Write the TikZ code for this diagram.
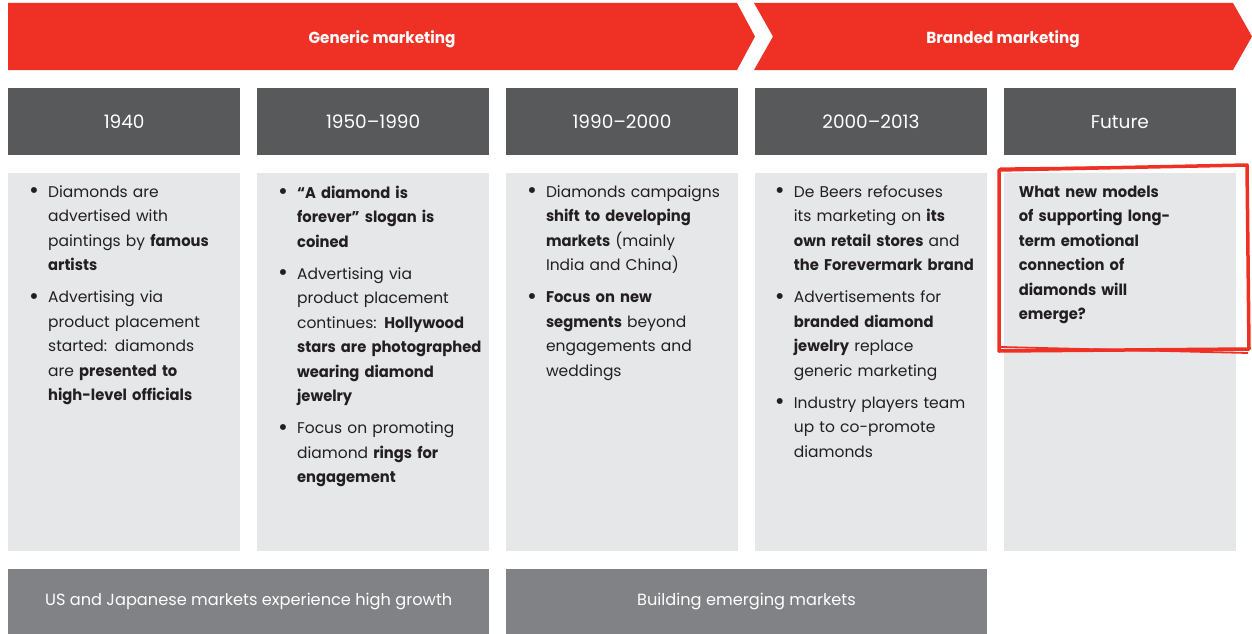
\documentclass[tikz,border=0pt]{standalone}
\usepackage{fontspec}
\setmainfont{Poppins}[BoldFeatures={FakeStretch=0.95}]
\usetikzlibrary{positioning}

\definecolor{bcred}{HTML}{EE3124}
\definecolor{hdgray}{HTML}{58595B}
\definecolor{bxgray}{HTML}{E6E7E8}
\definecolor{bargray}{HTML}{808285}
\definecolor{txdark}{HTML}{231F20}

\newcommand\dotmark{\raisebox{-1.5pt}{\fontsize{24}{0}\selectfont\textbullet}}
\newcommand\itm{\hangindent=19pt\hangafter=1\noindent\makebox[19pt][l]{\dotmark}\ignorespaces}
\newcommand\nitm{\par\vspace{7.5pt}\itm}

\tikzset{
  hdr/.style={fill=hdgray, text=white, minimum width=232pt, minimum height=67pt,
    inner sep=0pt, anchor=north west, font=\fontsize{18.5}{20}\selectfont},
  pane/.style={fill=bxgray, minimum width=232pt, minimum height=378pt,
    inner sep=0pt},
  bar/.style={fill=bargray, text=white, minimum width=481pt, minimum height=66pt,
    inner sep=0pt, font=\fontsize{16.2}{20}\selectfont},
  txt/.style={inner sep=0pt, text width=215pt, align=left, text=txdark,
    font=\fontsize{15.5}{24.5}\selectfont},
  banner/.style={fill=bcred},
  bannerlbl/.style={text=white, font=\bfseries\fontsize{16}{20}\selectfont}
}

\begin{document}
\begin{tikzpicture}[x=1pt, y=-1pt]
  \useasboundingbox (0,0) rectangle (1252,634);

  % top arrows
  \fill[banner] (8,3) -- (737,3) -- (755,36.5) -- (737,70) -- (8,70) -- cycle;
  \fill[banner] (754,3) -- (1233,3) -- (1252,36.5) -- (1233,70) -- (754,70) -- (773,36.5) -- cycle;
  \node[bannerlbl] (gen) at (382,39) {Generic marketing};
  \node[bannerlbl] (brd) at (1003,39) {Branded marketing};

  % periods
  \node[hdr]                      (h1) at (8,88) {1940};
  \node[hdr, right=16.5pt of h1] (h2) {1950--1990};
  \node[hdr, right=16.5pt of h2] (h3) {1990--2000};
  \node[hdr, right=16.5pt of h3] (h4) {2000--2013};
  \node[hdr, right=16.5pt of h4] (h5) {Future};

  \node[pane, below=17pt of h1] (c1) {};
  \node[pane, below=17pt of h2] (c2) {};
  \node[pane, below=17pt of h3] (c3) {};
  \node[pane, below=17pt of h4] (c4) {};
  \node[pane, below=17pt of h5] (c5) {};

  \node[txt, below right=13pt and 21pt of c1.north west] (t1) {%
    \itm Diamonds are\newline advertised with\newline paintings by \textbf{famous}\newline \textbf{artists}
    \nitm Advertising via\newline product placement\newline started: diamonds\newline are \textbf{presented to}\newline \textbf{high-level officials}\par};
  \node[txt, below right=13pt and 21pt of c2.north west] (t2) {%
    \itm \textbf{“A diamond is}\newline \textbf{forever” slogan is}\newline \textbf{coined}
    \nitm Advertising via\newline product placement\newline continues: \textbf{Hollywood}\newline \textbf{stars are photographed}\newline \textbf{wearing diamond}\newline \textbf{jewelry}
    \nitm Focus on promoting\newline diamond \textbf{rings for}\newline \textbf{engagement}\par};
  \node[txt, below right=13pt and 21pt of c3.north west] (t3) {%
    \itm Diamonds campaigns\newline \textbf{shift to developing}\newline \textbf{markets} (mainly\newline India and China)
    \nitm \textbf{Focus on new}\newline \textbf{segments} beyond\newline engagements and\newline weddings\par};
  \node[txt, below right=13pt and 20pt of c4.north west] (t4) {%
    \itm De Beers refocuses\newline its marketing on \textbf{its}\newline \textbf{own retail stores} and\newline \textbf{the Forevermark brand}
    \nitm Advertisements for\newline \textbf{branded diamond}\newline \textbf{jewelry} replace\newline generic marketing
    \nitm Industry players team\newline up to co-promote\newline diamonds\par};
  \node[txt, below right=13pt and 15pt of c5.north west] (t5) {%
    \bfseries What new models\newline of supporting long-\newline term emotional\newline connection of\newline diamonds will\newline emerge?\par};

  % hand-drawn highlight
  \draw[bcred, line width=3.5pt, line join=round] (999,170) -- (1247,165) -- (1249,349) -- (999,351) -- cycle;
  \draw[bcred, line width=1.8pt] (1001,347) -- (1248,353);
  \draw[bcred, line width=1.2pt] (1000,168) -- (1200,166);

  % phases
  \node[bar, below right=18pt and 0pt of c1.south west] (b1) {US and Japanese markets experience high growth};
  \node[bar, below right=18pt and 0pt of c3.south west] (b2) {Building emerging markets};
\end{tikzpicture}
\end{document}
